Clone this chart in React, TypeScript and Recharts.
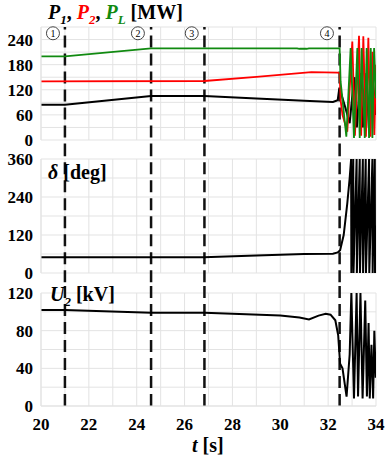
import React from 'react';
import { LineChart, Line, XAxis, YAxis, CartesianGrid, ReferenceLine, ReferenceDot } from 'recharts';

// time axis and event markers
const timeTicks = [20, 21, 22, 23, 24, 25, 26, 27, 28, 29, 30, 31, 32, 33, 34];
const events = [21, 24.6, 26.83, 32.48];
const eventNames = ['1', '2', '3', '4'];
const eventBadgeT = [20.5, 24.05, 26.3, 31.95];

// panel 1: powers [MW]
const powerTicks = [0, 30, 60, 90, 120, 150, 180, 210, 240, 270];
const tP1 = [20, 21, 24.6, 26.83, 29, 31, 32.2, 32.4, 32.47, 32.55, 32.73, 32.9, 33.0, 33.1, 33.2, 33.35, 33.45, 33.6, 33.7, 33.85, 34];
const p1 = [84, 84, 105, 105, 99, 94, 91, 95, 125, 110, 75, 40, 100, 150, 30, 160, 30, 160, 30, 150, 60];
const tP2 = [20, 26.83, 29, 31.3, 32.4, 32.48, 32.52, 32.6, 32.8, 33.01, 33.12, 33.29, 33.38, 33.47, 33.58, 33.68, 33.77, 33.85, 33.93, 34];
const p2 = [140, 141, 151, 162, 161, 160, 95, 60, 20, 235, 10, 249, 10, 248, 8, 244, 8, 211, 12, 180];
const tPL = [20, 21, 24.6, 30.7, 30.8, 31.1, 31.2, 32.48, 32.52, 32.76, 32.94, 33.08, 33.22, 33.32, 33.4, 33.53, 33.61, 33.71, 33.78, 33.85, 33.92, 34];
const pL = [200, 200, 219, 219, 218, 218, 219, 219, 140, 8, 220, 5, 220, 5, 220, 5, 220, 5, 220, 5, 220, 100];

// panel 2: rotor angle [deg]
const deltaTicks = [0, 60, 120, 180, 240, 300, 360];
const tDelta = [20, 26.8, 29, 31, 32.2, 32.4, 32.5, 32.65, 32.8, 32.9, 32.96, 32.97, 33.05, 33.06, 33.19, 33.2, 33.32, 33.33, 33.45, 33.46, 33.57, 33.58, 33.71, 33.72, 33.85, 33.86, 33.95, 33.96, 34];
const delta = [50, 50, 55, 60, 61, 65, 72, 120, 220, 300, 360, 0, 360, 0, 360, 0, 360, 0, 360, 0, 360, 0, 360, 0, 360, 0, 360, 0, 150];

// panel 3: voltage [kV]
const voltTicks = [0, 20, 40, 60, 80, 100, 120];
const tU2 = [20, 21, 24.6, 26.83, 28, 30, 30.8, 31.2, 31.6, 31.9, 32.1, 32.3, 32.42, 32.5, 32.6, 32.77, 32.9, 32.97, 33.08, 33.19, 33.25, 33.35, 33.44, 33.55, 33.62, 33.69, 33.74, 33.81, 33.88, 33.93, 33.99];
const u2 = [102, 102, 99, 99, 98, 96, 94, 92, 96, 98, 97, 91, 75, 45, 40, 10, 55, 120, 8, 120, 10, 120, 8, 112, 10, 88, 8, 65, 8, 80, 30];

const serif = '"Liberation Serif", "Times New Roman", serif';
const gridColor = '#e3e3e3';

const pairs = (ts: number[], vs: number[]) => ts.map((t, i) => ({ t, v: vs[i] }));

// tick label drawn by hand so the serif font sticks
function Tick(props: any) {
  const { x, y, payload, every, axis } = props;
  const v = payload.value;
  if (v % every !== 0) return null;
  if (axis === 'x') {
    return (
      <text x={x} y={y + 16} textAnchor="middle" fontSize={17} fontWeight={700} fontFamily={serif} fill="#000">{v}</text>
    );
  }
  return (
    <text x={x} y={y + 6} textAnchor="end" fontSize={17} fontWeight={700} fontFamily={serif} fill="#000">{v}</text>
  );
}

function Badge(props: any) {
  const { cx, cy, label } = props;
  return (
    <g>
      <circle cx={cx} cy={cy} r={6.5} fill="#fff" stroke="#444" strokeWidth={1} />
      <text x={cx} y={cy + 3.5} textAnchor="middle" fontSize={10} fontFamily={serif} fill="#000">{label}</text>
    </g>
  );
}

function eventLines(lo: number, hi: number) {
  return events.map(t => (
    <ReferenceLine
      key={t}
      segment={[{ x: t, y: lo }, { x: t, y: hi }]}
      ifOverflow="visible"
      stroke="#111"
      strokeWidth={2.5}
      strokeDasharray="12 6"
    />
  ));
}

function Panel(props: { top: number; height: number; margin: any; ticks: number[]; labelEvery: number; max: number; showX?: boolean; lo: number; hi: number; children: React.ReactNode; extra?: React.ReactNode }) {
  const { top, height, margin, ticks, labelEvery, max, showX, lo, hi, children, extra } = props;
  return (
    <div style={{ position: 'absolute', left: 0, top }}>
      <LineChart width={386} height={height} margin={margin}>
        <CartesianGrid stroke={gridColor} strokeWidth={1} />
        <XAxis
          dataKey="t"
          type="number"
          domain={[20, 34]}
          ticks={timeTicks}
          allowDataOverflow
          hide={!showX}
          height={showX ? 54 : 0}
          axisLine={{ stroke: gridColor }}
          tickLine={false}
          tick={<Tick axis="x" every={2} />}
          interval={0}
        />
        <YAxis
          type="number"
          domain={[0, max]}
          ticks={ticks}
          allowDataOverflow
          width={41}
          axisLine={{ stroke: gridColor }}
          tickLine={false}
          tick={<Tick axis="y" every={labelEvery} />}
          interval={0}
        />
        {eventLines(lo, hi)}
        {children}
        {extra}
      </LineChart>
    </div>
  );
}

export default function App() {
  return (
    <div style={{ position: 'absolute', left: 0, top: 0, width: 386, height: 460, background: '#fff', fontFamily: serif }}>
      <Panel top={0} height={150} margin={{ top: 27, right: 10, bottom: 10, left: 0 }} ticks={powerTicks} labelEvery={60} max={270} lo={-80} hi={270}
        extra={events.map((t, i) => (
          <ReferenceDot key={'b' + t} x={eventBadgeT[i]} y={255} shape={(p: any) => <Badge {...p} label={eventNames[i]} />} />
        ))}
      >
        <Line data={pairs(tP1, p1)} dataKey="v" stroke="#000" strokeWidth={2} dot={false} isAnimationActive={false} />
        <Line data={pairs(tP2, p2)} dataKey="v" stroke="#ff0000" strokeWidth={1.8} dot={false} isAnimationActive={false} />
        <Line data={pairs(tPL, pL)} dataKey="v" stroke="#108a10" strokeWidth={1.8} dot={false} isAnimationActive={false} />
      </Panel>
      <Panel top={150} height={135} margin={{ top: 9, right: 10, bottom: 12, left: 0 }} ticks={deltaTicks} labelEvery={120} max={360} lo={-200} hi={600}>
        <Line data={pairs(tDelta, delta)} dataKey="v" stroke="#000" strokeWidth={2} dot={false} isAnimationActive={false} />
      </Panel>
      <Panel top={285} height={175} margin={{ top: 8, right: 10, bottom: 0, left: 0 }} ticks={voltTicks} labelEvery={40} max={120} lo={0} hi={200} showX>
        <Line data={pairs(tU2, u2)} dataKey="v" stroke="#000" strokeWidth={2} dot={false} isAnimationActive={false} />
      </Panel>

      <div style={{ position: 'absolute', left: 48, top: 1, fontSize: 20, fontWeight: 700, lineHeight: '22px', whiteSpace: 'nowrap' }}>
        <i>P<sub style={{ fontSize: 13 }}>1</sub></i>,{' '}
        <i style={{ color: '#ff0000' }}>P<sub style={{ fontSize: 13 }}>2</sub></i>,{' '}
        <i style={{ color: '#108a10' }}>P<sub style={{ fontSize: 13 }}>L</sub></i> [MW]
      </div>
      <div style={{ position: 'absolute', left: 48, top: 161, fontSize: 20, fontWeight: 700, lineHeight: '22px', whiteSpace: 'nowrap' }}>
        <i>δ</i> [deg]
      </div>
      <div style={{ position: 'absolute', left: 50, top: 283, fontSize: 20, fontWeight: 700, lineHeight: '22px', whiteSpace: 'nowrap' }}>
        <i>U<sub style={{ fontSize: 13 }}>2</sub></i> [kV]
      </div>
      <div style={{ position: 'absolute', left: 192, top: 434, fontSize: 20, fontWeight: 700, lineHeight: '22px', whiteSpace: 'nowrap' }}>
        <i>t</i> [s]
      </div>
    </div>
  );
}
